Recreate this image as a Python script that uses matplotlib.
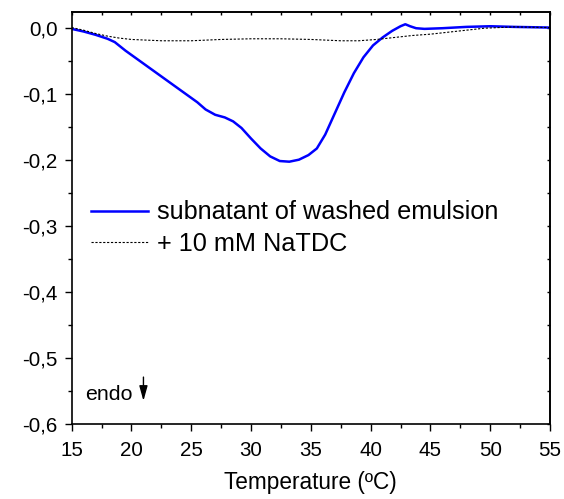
import matplotlib
matplotlib.use("Agg")
import matplotlib.pyplot as plt
from matplotlib.ticker import FuncFormatter, MultipleLocator

plt.rcParams['font.family'] = ['Liberation Sans', 'DejaVu Sans']

# Subnatant of washed emulsion (blue)
temp_a = [15.0, 16.0, 17.0, 18.0, 18.6, 19.5, 20.5, 21.5, 22.5, 23.5, 24.5, 25.5, 26.2,
          27.0, 27.8, 28.5, 29.2, 30.0, 30.8, 31.6, 32.4, 33.2, 34.0, 34.8, 35.5,
          36.2, 37.0, 37.8, 38.6, 39.4, 40.2, 41.0, 41.8, 42.5, 42.9, 43.3, 43.8,
          44.5, 46.0, 48.0, 50.0, 52.0, 55.0]
heat_a = [-0.002, -0.006, -0.011, -0.017, -0.022, -0.035, -0.048, -0.061, -0.074, -0.087,
          -0.100, -0.113, -0.124, -0.132, -0.136, -0.142, -0.152, -0.168, -0.183, -0.195,
          -0.202, -0.203, -0.200, -0.193, -0.183, -0.162, -0.130, -0.098, -0.069, -0.045,
          -0.027, -0.015, -0.005, 0.002, 0.005, 0.002, -0.001, -0.002, -0.001, 0.001,
          0.002, 0.001, 0.000]

# + 10 mM NaTDC (black dotted)
temp_b = [15.0, 16.0, 17.0, 18.0, 19.0, 20.0, 22.5, 25.0, 27.5, 30.0, 32.5, 35.0,
          37.5, 39.0, 40.5, 42.0, 43.5, 45.0, 46.5, 48.0, 49.5, 52.0, 55.0]
heat_b = [0.000, -0.004, -0.009, -0.013, -0.016, -0.018, -0.020, -0.020, -0.018, -0.017,
          -0.017, -0.018, -0.020, -0.020, -0.018, -0.015, -0.012, -0.010, -0.007, -0.004,
          -0.001, 0.001, 0.000]

x_ticks = [15, 20, 25, 30, 35, 40, 45, 50, 55]
y_ticks = [0.0, -0.1, -0.2, -0.3, -0.4, -0.5, -0.6]

W, H = 564, 499
L, R, T, B = 71.7, 550.0, 11.7, 424.0
fig = plt.figure(figsize=(W/100, H/100), dpi=100)
ax = fig.add_axes([L/W, 1 - B/H, (R-L)/W, (B-T)/H])

ax.plot(temp_a, heat_a, color='#0000ff', lw=1.8, label='subnatant of washed emulsion')
ax.plot(temp_b, heat_b, color='black', lw=0.8, linestyle=(0, (2, 1.5)), label='+ 10 mM NaTDC')

ax.set_xlim(15, 55)
ax.set_ylim(-0.6, 0.024)
ax.set_xticks(x_ticks)
ax.set_yticks(y_ticks)
ax.xaxis.set_minor_locator(MultipleLocator(2.5))
ax.yaxis.set_minor_locator(MultipleLocator(0.05))
fmt = FuncFormatter(lambda v, p: f"{v:.1f}".replace('.', ',').replace('-0,0', '0,0'))
ax.yaxis.set_major_formatter(fmt)
ax.tick_params(which='both', direction='out', labelsize=14.8, width=1)
ax.tick_params(which='major', length=5)
ax.tick_params(which='minor', length=2.8)
ax.tick_params(axis='x', which='major', pad=7)
ax.tick_params(axis='y', which='major', pad=5)

# inward short ticks on top and right
secx = ax.secondary_xaxis('top')
secx.set_xticks(x_ticks)
secx.xaxis.set_minor_locator(MultipleLocator(2.5))
secx.tick_params(which='both', direction='in', length=2.2, width=1, labeltop=False)
secy = ax.secondary_yaxis('right')
secy.set_yticks(y_ticks)
secy.yaxis.set_minor_locator(MultipleLocator(0.05))
secy.tick_params(which='both', direction='in', length=2.2, width=1, labelright=False)

for s in list(ax.spines.values()) + list(secx.spines.values()) + list(secy.spines.values()):
    s.set_linewidth(1.2)

ax.set_xlabel('Temperature (ºC)', fontsize=16.3, labelpad=8.4)

ax.legend(loc='center left', bbox_to_anchor=(0.040, 0.475), frameon=False, fontsize=18.2,
          handlelength=2.28, handletextpad=0.34, labelspacing=0.3,
          borderpad=0, borderaxespad=0)

ax.text(16.1, -0.5637, 'endo', fontsize=15.4, va='baseline', ha='left')
ax.annotate('', xy=(21.0, -0.565), xytext=(21.0, -0.529),
            arrowprops=dict(arrowstyle='-|>,head_length=0.9,head_width=0.25', color='black',
                            lw=1, mutation_scale=10, shrinkA=0, shrinkB=0))

fig.savefig('out.png', dpi=100)
